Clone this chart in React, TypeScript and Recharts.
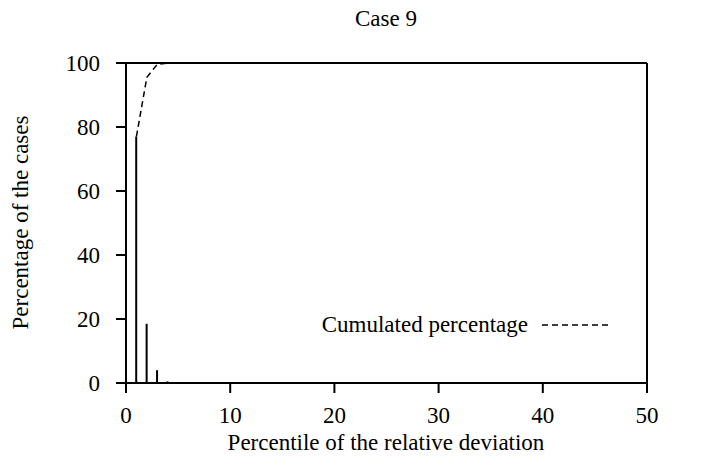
import React from 'react';
import { ComposedChart, Bar, Line, XAxis, YAxis, ReferenceLine } from 'recharts';

const percentiles = [
  1, 2, 3, 4, 5, 6, 7, 8, 9, 10,
  11, 12, 13, 14, 15, 16, 17, 18, 19, 20,
  21, 22, 23, 24, 25, 26, 27, 28, 29, 30,
  31, 32, 33, 34, 35, 36, 37, 38, 39, 40,
  41, 42, 43, 44, 45, 46, 47, 48, 49, 50,
];
const caseShare = [
  77, 18.5, 4, 0.5, 0, 0, 0, 0, 0, 0,
  0, 0, 0, 0, 0, 0, 0, 0, 0, 0,
  0, 0, 0, 0, 0, 0, 0, 0, 0, 0,
  0, 0, 0, 0, 0, 0, 0, 0, 0, 0,
  0, 0, 0, 0, 0, 0, 0, 0, 0, 0,
];
const cumulated = [
  77, 95.5, 99.6, 100, 100, 100, 100, 100, 100, 100,
  100, 100, 100, 100, 100, 100, 100, 100, 100, 100,
  100, 100, 100, 100, 100, 100, 100, 100, 100, 100,
  100, 100, 100, 100, 100, 100, 100, 100, 100, 100,
  100, 100, 100, 100, 100, 100, 100, 100, 100, 100,
];
const xTicks = [0, 10, 20, 30, 40, 50];
const yTicks = [0, 20, 40, 60, 80, 100];

const data = percentiles.map((p, i) => ({ p, share: caseShare[i], cum: cumulated[i] }));

const FONT = '"Liberation Serif", "Times New Roman", Times, serif';
const FS = 23;
const lineStyle = { stroke: '#000', strokeWidth: 2 };

const makeTick = (anchor: string, dy: string) => (props: any) => (
  <text
    x={props.x}
    y={props.y}
    dy={dy}
    textAnchor={anchor}
    fontSize={FS}
    fill="#000"
    style={{ fontFamily: FONT }}
  >
    {props.payload.value}
  </text>
);

const txt = { fontSize: FS, fill: '#000', style: { fontFamily: FONT } };

export default function App() {
  return (
    <div style={{ position: 'absolute', left: 0, top: 0, width: 714, height: 465, background: '#fff', fontFamily: FONT }}>
      <ComposedChart
        width={714}
        height={465}
        data={data}
        margin={{ top: 63, right: 7, left: 66, bottom: 42 }}
      >
        <XAxis
          dataKey="p"
          type="number"
          domain={[0, 50]}
          ticks={xTicks}
          height={40}
          tickSize={10}
          tickMargin={14}
          axisLine={lineStyle}
          tick={makeTick('middle', '0.71em')}
          tickLine={lineStyle}
        />
        <YAxis
          yAxisId="left"
          orientation="left"
          domain={[0, 100]}
          ticks={yTicks}
          width={60}
          tickSize={10}
          tickMargin={16}
          axisLine={lineStyle}
          tick={makeTick('end', '0.355em')}
          tickLine={lineStyle}
        />
        <YAxis
          yAxisId="right"
          orientation="right"
          domain={[0, 100]}
          ticks={yTicks}
          width={60}
          tickSize={10}
          tickMargin={21}
          axisLine={lineStyle}
          tick={makeTick('start', '0.355em')}
          tickLine={lineStyle}
        />
        <Bar yAxisId="left" dataKey="share" fill="#000" barSize={2} isAnimationActive={false} />
        <Line
          yAxisId="left"
          dataKey="cum"
          type="linear"
          stroke="#000"
          strokeWidth={1.5}
          strokeDasharray="6 4"
          dot={false}
          activeDot={false}
          isAnimationActive={false}
        />
        <ReferenceLine yAxisId="left" y={100} stroke="#000" strokeWidth={2} />
        <text x={386} y={26} textAnchor="middle" {...txt}>Case 9</text>
        <text x={386} y={450} textAnchor="middle" {...txt}>Percentile of the relative deviation</text>
        <text transform="translate(28,222.5) rotate(-90)" textAnchor="middle" {...txt}>Percentage of the cases</text>
        <text x={528} y={332} textAnchor="end" {...txt}>Cumulated percentage</text>
        <line x1={542} x2={610} y1={325} y2={325} stroke="#000" strokeWidth={1.5} strokeDasharray="6 4" />
      </ComposedChart>
    </div>
  );
}
